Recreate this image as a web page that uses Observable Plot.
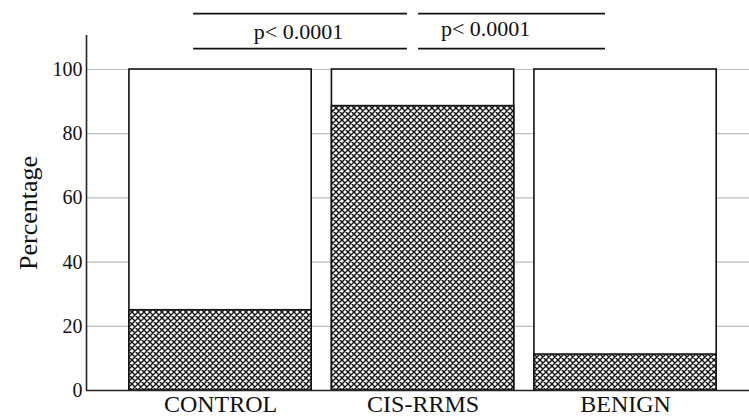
<!DOCTYPE html>
<html>
<head>
<meta charset="utf-8">
<script src="https://cdn.jsdelivr.net/npm/d3@7"></script>
<script src="https://cdn.jsdelivr.net/npm/@observablehq/plot@0.6"></script>
<style>
  html, body { margin: 0; padding: 0; background: #fff; }
  #chart svg { display: block; }
</style>
</head>
<body>
<div id="chart"></div>
<script>
// ---- data ----
const categories = ["CONTROL", "CIS-RRMS", "BENIGN"];
const hatchedPct = [25, 88.6, 11.2];
const totalPct = [100, 100, 100];
const yTicks = [0, 20, 40, 60, 80, 100];
const pLabels = ["p< 0.0001", "p< 0.0001"];
const yLabel = "Percentage";

// ---- annotation layout (in x-index units / y units) ----
const brackets = [
  {x1: -0.133, x2: 0.923, xText: 0.385, yText: 111.7},
  {x1: 0.978, x2: 1.901, xText: 1.309, yText: 112.6}
];
const bracketTop = 117.4, bracketBottom = 106.5;

const bars = categories.map((c, i) => ({i, c, total: totalPct[i], hatched: hatchedPct[i]}));
const ann = brackets.map((b, k) => ({...b, label: pLabels[k]}));
const serif = "'Liberation Serif', 'DejaVu Serif', serif";

const defs = () => {
  const d = d3.create("svg:defs");
  const p = d.append("pattern")
    .attr("id", "hatch").attr("patternUnits", "userSpaceOnUse")
    .attr("width", 6).attr("height", 6);
  p.append("rect").attr("width", 6).attr("height", 6).attr("fill", "#fff");
  p.append("path")
    .attr("d", "M-1,-1L7,7M-1,7L7,-1M-1,5L1,7M5,-1L7,1M-1,1L1,-1M5,7L7,5")
    .attr("stroke", "#111").attr("stroke-width", 1.4).attr("fill", "none");
  return d.node();
};

const chart = Plot.plot({
  width: 749,
  height: 420,
  marginLeft: 86,
  marginRight: 0,
  marginTop: 35,
  marginBottom: 30,
  style: {fontFamily: serif, background: "#fff", color: "#111"},
  x: {type: "linear", domain: [-0.662, 2.612], axis: null},
  y: {domain: [0, 110.6], axis: null},
  marks: [
    defs,
    Plot.ruleY(yTicks.filter(d => d > 0), {stroke: "#bdbdbd", strokeWidth: 1.2}),
    Plot.rectY(bars, {x1: d => d.i - 0.45, x2: d => d.i + 0.45, y1: 0, y2: "total", fill: "#fff", stroke: "#111", strokeWidth: 1.6}),
    Plot.rectY(bars, {x1: d => d.i - 0.45, x2: d => d.i + 0.45, y1: 0, y2: "hatched", fill: "url(#hatch)", stroke: "#111", strokeWidth: 1.6}),
    Plot.ruleY([0], {stroke: "#222", strokeWidth: 1.6}),
    Plot.ruleX([-0.662], {y1: 0, y2: 110.6, stroke: "#222", strokeWidth: 1.6}),
    Plot.axisY({ticks: yTicks, tickSize: 0, tickPadding: 4, fontSize: 20, label: null}),
    Plot.axisX({ticks: [0, 1, 2], tickFormat: i => categories[i], tickSize: 0, tickPadding: 4, fontSize: 24, label: null}),
    Plot.text([yLabel], {frameAnchor: "left", textAnchor: "middle", dx: -58, rotate: -90, fontSize: 26, fill: "#111"}),
    Plot.ruleY(ann, {x1: "x1", x2: "x2", y: bracketTop, stroke: "#111", strokeWidth: 1.6, clip: false}),
    Plot.ruleY(ann, {x1: "x1", x2: "x2", y: bracketBottom, stroke: "#111", strokeWidth: 1.6, clip: false}),
    Plot.text(ann, {x: "xText", y: "yText", text: "label", fontSize: 22, fill: "#111", clip: false})
  ]
});
document.getElementById("chart").append(chart);
</script>
</body>
</html>
